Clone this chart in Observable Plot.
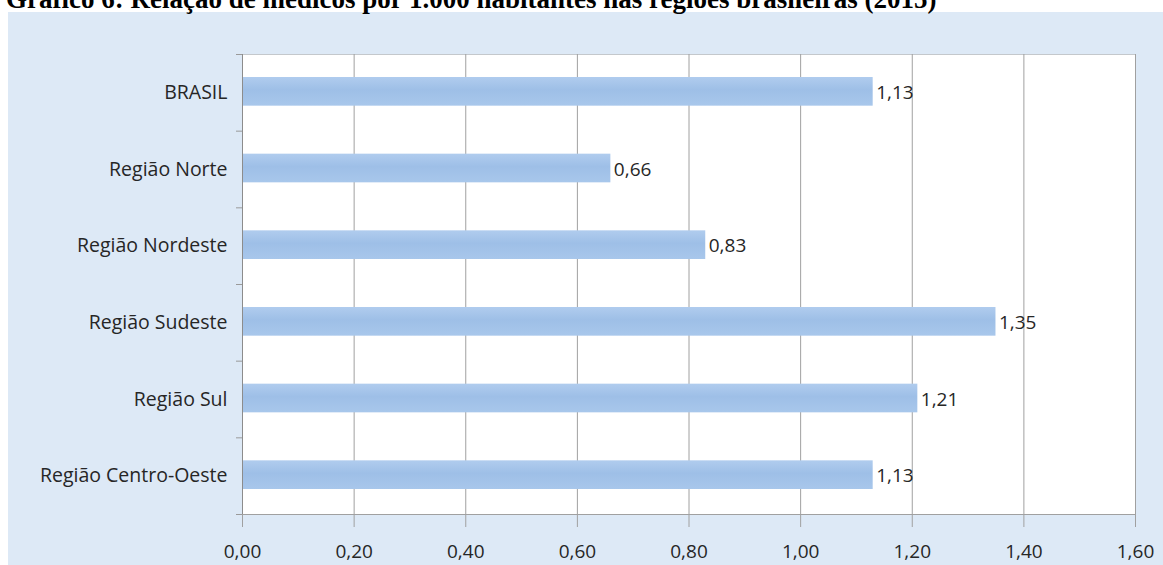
<!DOCTYPE html>
<html lang="pt-BR">
<head>
<meta charset="utf-8">
<script src="https://cdn.jsdelivr.net/npm/d3@7"></script>
<script src="https://cdn.jsdelivr.net/npm/@observablehq/plot@0.6"></script>
<style>
  html, body { margin: 0; padding: 0; background: #ffffff; overflow: hidden; }
  #title {
    height: 12px; overflow: visible; position: relative; z-index: 1;
    font: bold 27px/27px "Liberation Serif", "Times New Roman", serif; color: #000;
    white-space: nowrap;
  }
  #title span { position: relative; top: -14px; left: 6px; }
  #panel { margin-left: 8px; width: 1155px; background: #dde9f6; }
  #panel svg { display: block; }
</style>
</head>
<body>
<div id="title"><span>Gráfico 6: Relação de médicos por 1.000 habitantes nas regiões brasileiras (2015)</span></div>
<div id="panel"></div>
<script>
// Médicos por 1.000 habitantes, 2015
const categories = ["BRASIL", "Região Norte", "Região Nordeste", "Região Sudeste", "Região Sul", "Região Centro-Oeste"];
const values = [1.13, 0.66, 0.83, 1.35, 1.21, 1.13];
const xTicks = [0, 0.2, 0.4, 0.6, 0.8, 1.0, 1.2, 1.4, 1.6];

const ptBR = d3.formatLocale({decimal: ",", thousands: ".", grouping: [3], currency: ["R$", ""]});
const fmt = ptBR.format(".2f");

const rows = categories.map((name, i) => ({name, i, value: values[i]}));
const separators = d3.range(categories.length + 1);
const centers = categories.map((_, i) => i + 0.5);

const chart = Plot.plot({
  width: 1155,
  height: 553,
  marginLeft: 234,
  marginRight: 28,
  marginTop: 42,
  marginBottom: 51,
  style: {background: "transparent", fontFamily: "'Open Sans', 'Noto Sans', sans-serif", color: "#262626"},
  x: {domain: [0, 1.6]},
  y: {domain: [0, categories.length], reverse: true},
  marks: [
    Plot.frame({fill: "white", stroke: "#c4c8cc"}),
    Plot.gridX(xTicks, {stroke: "#a0a0a0", strokeOpacity: 1}),
    Plot.rectX(rows, {
      x1: 0, x2: "value",
      y1: "i", y2: d => d.i + 1,
      insetTop: 23, insetBottom: 25,
      fill: "url(#bar-fill)"
    }),
    Plot.ruleX([0], {stroke: "#8c8c8c"}),
    Plot.ruleY([categories.length], {stroke: "#a0a0a0"}),
    Plot.axisY(separators, {tickSize: 6, tickFormat: () => "", stroke: "#9a9a9a", label: null}),
    Plot.axisY(centers, {
      tickSize: 0, tickPadding: 15, fontSize: 19.5,
      tickFormat: d => categories[Math.floor(d)], label: null
    }),
    Plot.axisX(xTicks, {
      tickSize: 13, tickPadding: 17, fontSize: 19,
      tickFormat: fmt, stroke: "#a0a0a0", label: null
    }),
    Plot.text(rows, {
      x: "value", y: d => d.i + 0.5,
      text: d => fmt(d.value),
      textAnchor: "start", dx: 3, fontSize: 19, fill: "#262626"
    })
  ]
});

// soft vertical shading for the bars
const defs = d3.select(chart).insert("defs", ":first-child");
const grad = defs.append("linearGradient")
  .attr("id", "bar-fill").attr("x1", 0).attr("y1", 0).attr("x2", 0).attr("y2", 1);
grad.append("stop").attr("offset", "0%").attr("stop-color", "#b0ccee");
grad.append("stop").attr("offset", "45%").attr("stop-color", "#9ebfe7");
grad.append("stop").attr("offset", "100%").attr("stop-color", "#a8c7eb");

document.getElementById("panel").appendChild(chart);
</script>
</body>
</html>
